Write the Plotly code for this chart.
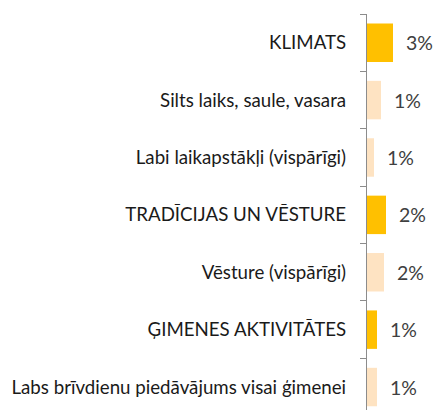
import plotly.graph_objects as go

categories = [
    "KLIMATS",
    "Silts laiks, saule, vasara",
    "Labi laikapstākļi (vispārīgi)",
    "TRADĪCIJAS UN VĒSTURE",
    "Vēsture (vispārīgi)",
    "ĢIMENES AKTIVITĀTES",
    "Labs brīvdienu piedāvājums visai ģimenei",
]
values = [2.6, 1.4, 0.7, 1.9, 1.7, 1.0, 1.0]
is_group = [True, False, False, True, False, True, False]

DARK = "#FFC000"
LIGHT = "#FEE3C2"
colors = [DARK if g else LIGHT for g in is_group]
labels = [f"{round(v)}%" for v in values]

FONT = "Lato"

fig = go.Figure(
    go.Bar(
        x=values,
        y=categories,
        orientation="h",
        marker=dict(color=colors, line=dict(width=0)),
        hoverinfo="skip",
    )
)

for c, v, t in zip(categories, values, labels):
    fig.add_annotation(
        x=v, y=c, text=t, showarrow=False, xanchor="left", xshift=11,
        font=dict(family=FONT, size=19.5, color="#404040"),
    )

fig.update_layout(
    width=435,
    height=410,
    margin=dict(l=367, r=0, t=14, b=0),
    paper_bgcolor="white",
    plot_bgcolor="white",
    bargap=0.33,
    showlegend=False,
    xaxis=dict(range=[0, 6.8], visible=False),
    yaxis=dict(
        type="category",
        categoryorder="array",
        categoryarray=categories,
        range=[6.4, -0.5],
        showline=True,
        linecolor="#8C8C8C",
        linewidth=1.3,
        ticks="outside",
        tickson="boundaries",
        ticklen=6,
        tickcolor="#8C8C8C",
        tickwidth=1.3,
        ticklabelstandoff=16,
        showgrid=False,
        tickfont=dict(family=FONT, size=18.7, color="#1A1A1A"),
    ),
)

fig.write_html(
    "out.html",
    config={"displayModeBar": False},
    post_script="document.body.style.margin='0';document.body.style.overflow='hidden';",
)
